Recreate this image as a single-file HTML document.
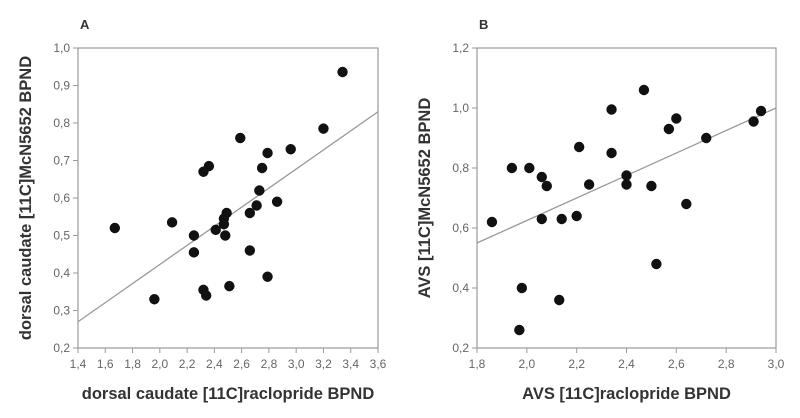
<!DOCTYPE html>
<html><head><meta charset="utf-8"><style>
body{margin:0;background:#fff;}
svg{display:block;font-family:"Liberation Sans",Arial,sans-serif;}
.tk{font-size:12px;fill:#666;}
.tt{font-size:16.5px;font-weight:bold;fill:#333;}
.pl{font-size:13px;font-weight:bold;fill:#333;}
</style></head><body>
<svg id="c" width="800" height="418" viewBox="0 0 800 418"></svg>
<script>
const aX=[3.34,3.20,2.96,2.79,2.59,2.75,2.73,2.71,2.86,2.66,2.49,2.47,2.47,2.41,2.48,2.36,2.32,2.09,2.25,2.25,1.67,1.96,2.32,2.34,2.51,2.66,2.79];
const aY=[0.936,0.785,0.73,0.72,0.76,0.68,0.62,0.58,0.59,0.56,0.56,0.545,0.53,0.515,0.50,0.685,0.67,0.535,0.50,0.455,0.52,0.33,0.355,0.34,0.365,0.46,0.39];
const aLine=[[1.4,0.27],[3.6,0.83]];
const aXT=["1,4","1,6","1,8","2,0","2,2","2,4","2,6","2,8","3,0","3,2","3,4","3,6"];
const aYT=["0,2","0,3","0,4","0,5","0,6","0,7","0,8","0,9","1,0"];
const bX=[1.86,1.94,2.01,2.06,2.08,2.06,2.14,1.98,1.97,2.13,2.20,2.21,2.25,2.34,2.34,2.40,2.40,2.47,2.50,2.52,2.57,2.60,2.64,2.72,2.91,2.94];
const bY=[0.62,0.80,0.80,0.77,0.74,0.63,0.63,0.40,0.26,0.36,0.64,0.87,0.745,0.995,0.85,0.775,0.745,1.06,0.74,0.48,0.93,0.965,0.68,0.90,0.955,0.99];
const bLine=[[1.8,0.55],[3.0,1.0]];
const bXT=["1,8","2,0","2,2","2,4","2,6","2,8","3,0"];
const bYT=["0,2","0,4","0,6","0,8","1,0","1,2"];
const NS="http://www.w3.org/2000/svg";
const svg=document.getElementById('c');
function mk(t,a,p){const e=document.createElementNS(NS,t);for(const k in a)e.setAttribute(k,a[k]);(p||svg).appendChild(e);return e;}
function panel(id,L,R,T,B,x0,x1,y0,y1,xs,ys,line,xt,yt,letter,xTitle,yTitle){
  const g=mk('g',{});
  
  
  const sx=v=>L+(v-x0)/(x1-x0)*(R-L), sy=v=>B-(v-y0)/(y1-y0)*(B-T);
  const fr=mk('rect',{x:L,y:T,width:R-L,height:B-T,fill:'none',stroke:'#999','stroke-width':1.2},g);
  
  
  xt.forEach((s,i)=>{const v=x0+i*(x1-x0)/(xt.length-1),x=sx(v);
    mk('line',{x1:x,x2:x,y1:B,y2:B+5,stroke:'#999'},g);
    const t=mk('text',{x:x,y:B+20,'text-anchor':'middle',class:'tk'},g);t.textContent=s;
    
    });
  yt.forEach((s,i)=>{const v=y0+i*(y1-y0)/(yt.length-1),y=sy(v);
    mk('line',{x1:L-5,x2:L,y1:y,y2:y,stroke:'#999'},g);
    const t=mk('text',{x:L-8,y:y+4,'text-anchor':'end',class:'tk'},g);t.textContent=s;
    
    });
  const ln=mk('line',{x1:sx(line[0][0]),y1:sy(line[0][1]),x2:sx(line[1][0]),y2:sy(line[1][1]),stroke:'#999','stroke-width':1.3},g);
  
  
  xs.forEach((v,i)=>{const c=mk('circle',{cx:sx(v),cy:sy(ys[i]),r:5.2,fill:'#111'},g);
    
    });
  const pl=mk('text',{x:L+2,y:29,class:'pl'},g);pl.textContent=letter;
  
  
  const xtl=mk('text',{x:(L+R)/2,y:399,'text-anchor':'middle',class:'tt'},g);xtl.textContent=xTitle;
  
  
  const cx=L-47,cy=(T+B)/2;
  const ytl=mk('text',{x:cx,y:cy,'text-anchor':'middle',class:'tt',transform:`rotate(-90 ${cx} ${cy})`},g);ytl.textContent=yTitle;
  
  
}
panel('a',78,378,48,348,1.4,3.6,0.2,1.0,aX,aY,aLine,aXT,aYT,'A','dorsal caudate [11C]raclopride BPND','dorsal caudate [11C]McN5652 BPND');
panel('b',477,776,48,348,1.8,3.0,0.2,1.2,bX,bY,bLine,bXT,bYT,'B','AVS [11C]raclopride BPND','AVS [11C]McN5652 BPND');
</script>
</body></html>
